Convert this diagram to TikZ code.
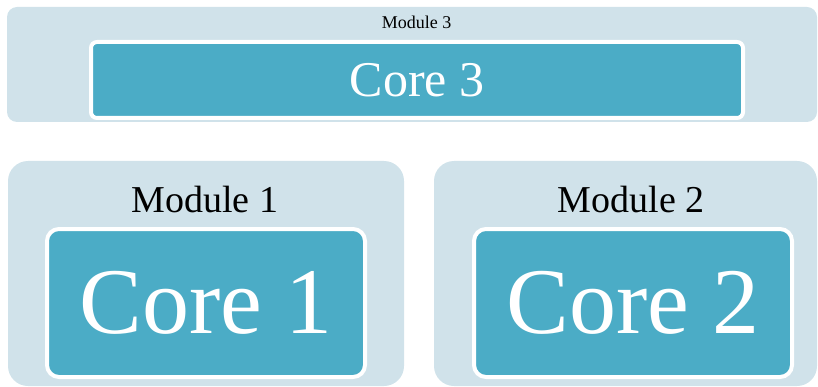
\documentclass[tikz,border=0pt]{standalone}
\usepackage{fontspec}
\setmainfont{Liberation Serif}
\usetikzlibrary{positioning}

\definecolor{modfill}{RGB}{208,226,234}
\definecolor{corefill}{RGB}{75,172,198}

\tikzset{
        module/.style={fill=modfill,rounded corners=#1,inner sep=0pt},
        module/.default=20pt,
        core/.style={draw=white,line width=4pt,fill=corefill,text=white,
                     rounded corners=#1,inner sep=0pt},
        core/.default=12pt,
        modlabel/.style={anchor=base,inner sep=0pt}
        }

\begin{document}
\begin{tikzpicture}[x=1pt,y=-1pt]
    \useasboundingbox (0,0) rectangle (818,387);

    % the wide module on top
    \node[module=10pt,minimum width=810pt,minimum height=115pt] (mod3) at (412,64.5) {};
    \node[core=6pt,minimum width=652pt,minimum height=76pt,
          font=\fontsize{50}{50}\selectfont] (core3) at (417,80) {Core 3};
    \node[modlabel,font=\fontsize{18}{18}\selectfont] (lab3) at (416.5,29) {Module 3};

    % the two modules below
    \node[module,minimum width=396pt,minimum height=225pt] (mod1) at (206,273.5) {};
    \node[module,minimum width=383pt,minimum height=225pt] (mod2) at (625.5,273.5) {};

    \node[core,minimum width=318pt,minimum height=148pt,
          font=\fontsize{94}{94}\selectfont] (core1) at (206,303) {Core 1};
    \node[core,minimum width=318pt,minimum height=148pt,
          font=\fontsize{94}{94}\selectfont] (core2) at (633,303) {Core 2};

    \node[modlabel,font=\fontsize{38}{38}\selectfont] (lab1) at (205,212) {Module 1};
    \node[modlabel,font=\fontsize{38}{38}\selectfont] (lab2) at (631,212) {Module 2};
\end{tikzpicture}
\end{document}
